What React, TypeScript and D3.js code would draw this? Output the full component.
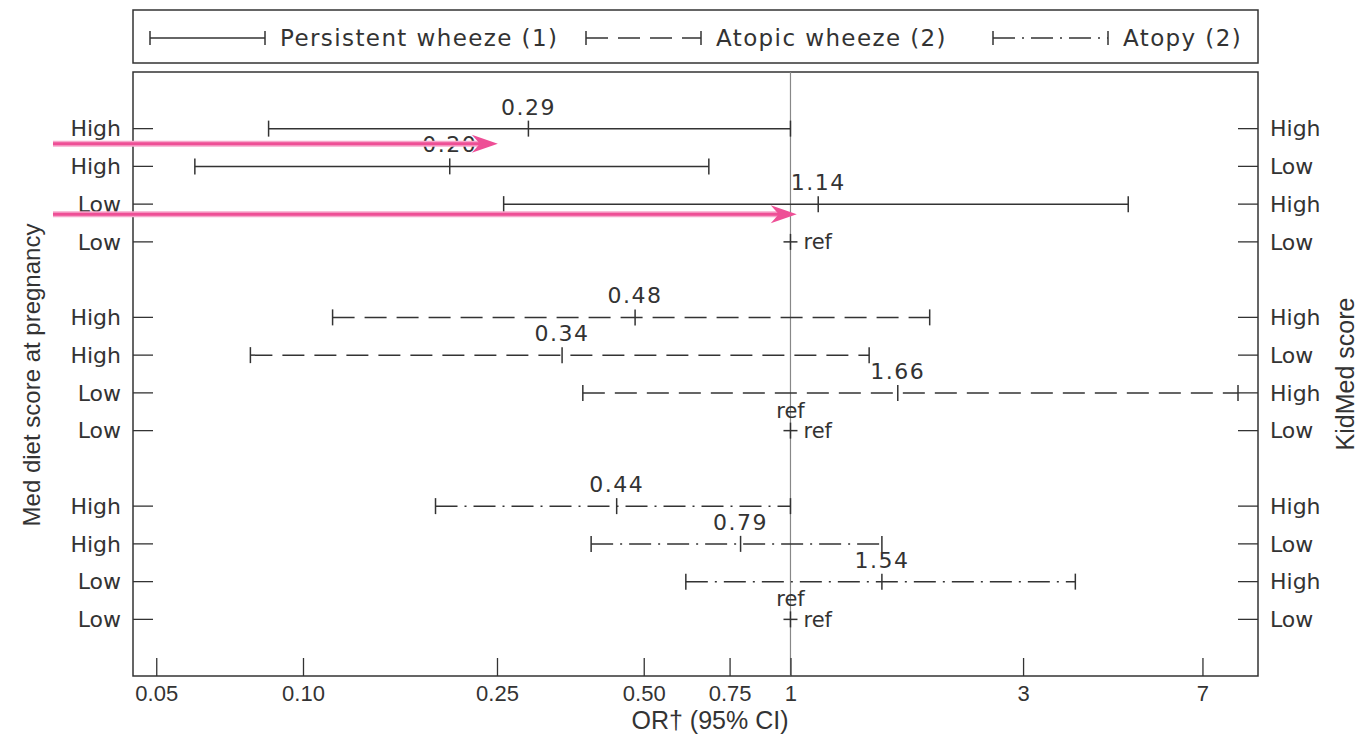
import React, { useEffect, useRef } from 'react';
import * as d3 from 'd3';

// outcomes (legend order)
const outcomes = ['Persistent wheeze (1)', 'Atopic wheeze (2)', 'Atopy (2)'];
const dashes = ['none', '22,10', '22,7,2,7'];

// rows inside each group
const pregnancyLabels = ['High', 'High', 'Low', 'Low'];
const kidMedLabels = ['High', 'Low', 'High', 'Low'];

// odds ratios and 95% CI, one array per outcome (ref = 1)
const persistentOR = [0.29, 0.20, 1.14, 1];
const persistentLo = [0.085, 0.060, 0.258, 1];
const persistentHi = [1.0, 0.68, 4.93, 1];

const atopicOR = [0.48, 0.34, 1.66, 1];
const atopicLo = [0.115, 0.078, 0.375, 1];
const atopicHi = [1.93, 1.45, 8.28, 1];

const atopyOR = [0.44, 0.79, 1.54, 1];
const atopyLo = [0.187, 0.39, 0.61, 1];
const atopyHi = [1.0, 1.54, 3.84, 1];

const valueLabels = [
  ['0.29', '0.20', '1.14', 'ref'],
  ['0.48', '0.34', '1.66', 'ref'],
  ['0.44', '0.79', '1.54', 'ref'],
];
const extraRef = [false, true, true];

const xTicks = [0.05, 0.10, 0.25, 0.50, 0.75, 1, 3, 7];
const xTickLabels = ['0.05', '0.10', '0.25', '0.50', '0.75', '1', '3', '7'];

// pink annotation arrows: row position (fractional) and OR where the tip ends
const arrowRows = [0.4, 2.27];
const arrowStart = [0.0307, 0.0307];
const arrowEnd = [0.251, 1.03];

const FONT = '"DejaVu Sans", sans-serif';
const NARROW = '"Liberation Sans", sans-serif';
const INK = '#333';

function App() {
  const svgRef = useRef(null);

  useEffect(() => {
    if (!svgRef.current) return;
    const svg = d3.select(svgRef.current);
    svg.selectAll('*').remove();

    const left = 133, right = 1258, top = 72, bottom = 676;

    const x = d3.scaleLog().domain([0.0448, 9.1]).range([left, right]);
    const y = d3.scaleLinear().domain([-1.5, 14.5]).range([top, bottom]);

    const series = [
      { or: persistentOR, lo: persistentLo, hi: persistentHi },
      { or: atopicOR, lo: atopicLo, hi: atopicHi },
      { or: atopyOR, lo: atopyLo, hi: atopyHi },
    ];

    // legend box
    svg.append('rect')
      .attr('x', left).attr('y', 10).attr('width', right - left).attr('height', 53)
      .attr('fill', 'none').attr('stroke', INK).attr('stroke-width', 1.5);

    const legendX = [150, 586, 993];
    outcomes.forEach((name, i) => {
      const g = svg.append('g').attr('transform', `translate(${legendX[i]},38)`);
      g.append('line').attr('x1', 0).attr('x2', 115).attr('stroke', INK).attr('stroke-width', 1.5)
        .attr('stroke-dasharray', dashes[i]);
      [0, 115].forEach(cx => g.append('line').attr('x1', cx).attr('x2', cx).attr('y1', -7).attr('y2', 7)
        .attr('stroke', INK).attr('stroke-width', 1.5));
      g.append('text').attr('x', 130).attr('dy', '0.35em')
        .attr('font-family', FONT).attr('font-size', 23).attr('letter-spacing', 1.4).attr('fill', INK).text(name);
    });

    // plot frame
    svg.append('rect')
      .attr('x', left).attr('y', top).attr('width', right - left).attr('height', bottom - top)
      .attr('fill', 'none').attr('stroke', INK).attr('stroke-width', 1.5);

    // reference line at OR = 1
    svg.append('line')
      .attr('x1', x(1)).attr('x2', x(1)).attr('y1', top).attr('y2', bottom)
      .attr('stroke', '#888').attr('stroke-width', 1.2);

    // x axis (ticks inward)
    const xAxis = svg.append('g').attr('transform', `translate(0,${bottom})`)
      .call(d3.axisBottom(x).tickValues(xTicks).tickSizeInner(-18).tickSizeOuter(0)
        .tickFormat((d, i) => xTickLabels[i]));
    xAxis.select('.domain').remove();
    xAxis.selectAll('line').attr('stroke', INK).attr('stroke-width', 1.3);
    xAxis.selectAll('text').attr('y', 9).attr('dy', '0.71em')
      .attr('font-family', NARROW).attr('font-size', 22).attr('fill', INK);

    svg.append('text').attr('x', 710).attr('y', 729).attr('text-anchor', 'middle')
      .attr('font-family', NARROW).attr('font-size', 25).attr('fill', INK).text('OR† (95% CI)');

    // y tick rows
    const rows = [];
    series.forEach((s, g) => {
      s.or.forEach((v, k) => rows.push({ g, k, idx: g * 5 + k }));
    });

    rows.forEach(r => {
      const yy = y(r.idx);
      svg.append('line').attr('x1', left).attr('x2', left + 20).attr('y1', yy).attr('y2', yy)
        .attr('stroke', INK).attr('stroke-width', 1.3);
      svg.append('line').attr('x1', right - 20).attr('x2', right).attr('y1', yy).attr('y2', yy)
        .attr('stroke', INK).attr('stroke-width', 1.3);
      svg.append('text').attr('x', left - 12).attr('y', yy).attr('dy', '0.35em').attr('text-anchor', 'end')
        .attr('font-family', FONT).attr('font-size', 22).attr('fill', INK).text(pregnancyLabels[r.k]);
      svg.append('text').attr('x', right + 12).attr('y', yy).attr('dy', '0.35em')
        .attr('font-family', FONT).attr('font-size', 22).attr('fill', INK).text(kidMedLabels[r.k]);
    });

    svg.append('text').attr('transform', `translate(40,375) rotate(-90)`).attr('text-anchor', 'middle')
      .attr('font-family', NARROW).attr('font-size', 24).attr('fill', INK).text('Med diet score at pregnancy');
    svg.append('text').attr('transform', `translate(1354,374) rotate(-90)`).attr('text-anchor', 'middle')
      .attr('font-family', NARROW).attr('font-size', 25).attr('fill', INK).text('KidMed score');

    // confidence intervals
    rows.forEach(r => {
      const s = series[r.g];
      const yy = y(r.idx);
      const or = s.or[r.k], lo = s.lo[r.k], hi = s.hi[r.k];
      const label = valueLabels[r.g][r.k];
      if (label === 'ref') {
        svg.append('line').attr('x1', x(1) - 7).attr('x2', x(1) + 7).attr('y1', yy).attr('y2', yy)
          .attr('stroke', INK).attr('stroke-width', 1.5);
        svg.append('line').attr('x1', x(1)).attr('x2', x(1)).attr('y1', yy - 8).attr('y2', yy + 8)
          .attr('stroke', INK).attr('stroke-width', 1.5);
        svg.append('text').attr('x', x(1) + 13).attr('y', yy).attr('dy', '0.35em')
          .attr('font-family', FONT).attr('font-size', 21).attr('fill', INK).text('ref');
        if (extraRef[r.g]) {
          svg.append('text').attr('x', x(1)).attr('y', yy - 13).attr('text-anchor', 'middle')
            .attr('font-family', FONT).attr('font-size', 21).attr('fill', INK).text('ref');
        }
        return;
      }
      svg.append('line').attr('x1', x(lo)).attr('x2', x(hi)).attr('y1', yy).attr('y2', yy)
        .attr('stroke', INK).attr('stroke-width', 1.5).attr('stroke-dasharray', dashes[r.g]);
      [lo, or, hi].forEach(v => svg.append('line').attr('x1', x(v)).attr('x2', x(v))
        .attr('y1', yy - 8).attr('y2', yy + 8).attr('stroke', INK).attr('stroke-width', 1.5));
      svg.append('text').attr('x', x(or)).attr('y', yy - 14).attr('text-anchor', 'middle')
        .attr('font-family', FONT).attr('font-size', 22).attr('letter-spacing', 1.5).attr('fill', INK).text(label);
    });

    // pink arrows
    arrowRows.forEach((ri, i) => {
      const yy = y(ri);
      const x0 = x(arrowStart[i]), x1 = x(arrowEnd[i]);
      svg.append('line').attr('x1', x0).attr('x2', x1 - 12).attr('y1', yy).attr('y2', yy)
        .attr('stroke', '#f7a8cc').attr('stroke-width', 6);
      svg.append('line').attr('x1', x0).attr('x2', x1 - 12).attr('y1', yy).attr('y2', yy)
        .attr('stroke', '#ee4f96').attr('stroke-width', 3);
      svg.append('path')
        .attr('d', `M${x1},${yy} L${x1 - 26},${yy - 9} L${x1 - 18},${yy} L${x1 - 26},${yy + 9} Z`)
        .attr('fill', '#ee4f96');
    });
  }, []);

  return (
    <svg ref={svgRef} width={1370} height={738}
      style={{ position: 'absolute', left: 0, top: 0, background: '#fff' }} />
  );
}

export default App;
